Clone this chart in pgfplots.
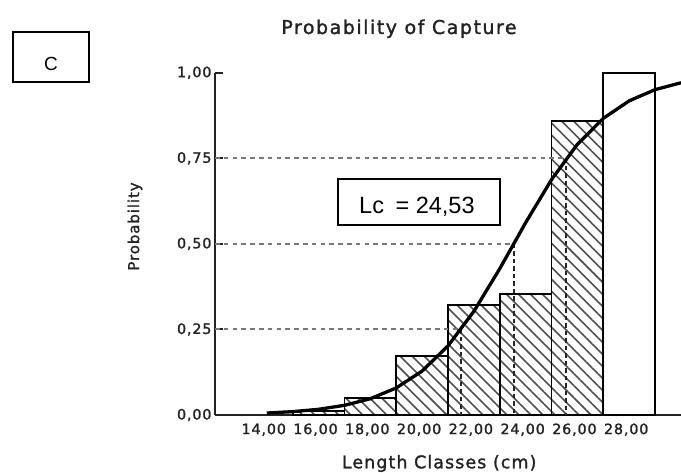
\documentclass[border=0pt]{standalone}
\usepackage{fontspec}
\setmainfont{DejaVu Sans}
\newfontfamily\dv[LetterSpace=6,FakeBold=1.4]{DejaVu Sans}
\newfontfamily\dvt[LetterSpace=8,FakeBold=1.6]{DejaVu Sans}
\newfontfamily\lib{Liberation Sans}
\usepackage{pgfplots}
\pgfplotsset{compat=1.18}
\usetikzlibrary{patterns.meta}
\definecolor{txt}{RGB}{35,35,35}
\definecolor{dashgray}{RGB}{120,120,120}
\definecolor{hatch}{RGB}{80,80,80}

\begin{document}
\begin{tikzpicture}[x=1pt,y=1pt]
\useasboundingbox (0,0) rectangle (681,473);
\begin{axis}[
  at={(215pt,58pt)}, anchor=south west,
  scale only axis, width=466pt, height=342.3pt,
  xmin=12, xmax=30, ymin=0, ymax=1,
  axis x line*=bottom, axis y line*=left,
  axis line style={-, line width=2pt, draw=txt},
  clip=false,
  xtick={14,16,18,20,22,24,26,28},
  xticklabels={{14,00},{16,00},{18,00},{20,00},{22,00},{24,00},{26,00},{28,00}},
  ytick={0,0.25,0.5,0.75,1},
  yticklabels={{0,00},{0,25},{0,50},{0,75},{1,00}},
  x tick style={draw=none},
  y tick style={line width=2pt, draw=txt},
  tick align=inside, major tick length=8pt,
  ticklabel style={font={\dv\fontsize{14.3}{16}\selectfont}, text=txt},
  xticklabel style={yshift=-5pt, xshift=-3pt},
  /pgf/number format/assume math mode=true,
]
% hatched bars (class intervals), last point closes the interval
\addplot[ybar interval, draw=black, line width=1.8pt,
  pattern={Lines[angle=-45,distance=8.5pt,line width=1.6pt]}, pattern color=hatch]
  coordinates {(15,0.012)(17,0.05)(19,0.173)(21,0.321)(23,0.353)(25,0.859)(27,0.859)};
% white bar
\addplot[ybar interval, draw=black, line width=1.8pt, fill=white]
  coordinates {(27,1.0)(29,1.0)};
% horizontal reference lines (gray dashed)
\addplot[dashgray, line width=2pt, dash pattern=on 4.5pt off 4.3pt] coordinates {(12,0.25)(21.49,0.25)};
\addplot[dashgray, line width=2pt, dash pattern=on 4.5pt off 4.3pt] coordinates {(12,0.50)(23.54,0.50)};
\addplot[dashgray, line width=2pt, dash pattern=on 4.5pt off 4.3pt] coordinates {(12,0.75)(25.56,0.75)};
% vertical reference lines
\addplot[black!85, line width=1.7pt, dash pattern=on 4.5pt off 3pt] coordinates {(21.49,0.25)(21.49,0)};
\addplot[black!85, line width=1.7pt, dash pattern=on 4.5pt off 3pt] coordinates {(23.54,0.50)(23.54,0)};
\addplot[black!85, line width=1.7pt, dash pattern=on 4.5pt off 3pt] coordinates {(25.56,0.75)(25.56,0)};
% probability of capture curve
\addplot[black, line width=3.3pt, line join=round] coordinates {
(14,0.0057)(15,0.0098)(16,0.0166)(17,0.0282)(18,0.0475)(19,0.0790)(20,0.1284)
(21,0.2020)(22,0.3030)(23,0.4275)(24,0.5619)(25,0.6878)(26,0.7910)(27,0.8667)
(28,0.9178)(29,0.9505)(30,0.9706)};
\end{axis}
\node[font={\dvt\fontsize{19}{22}\selectfont}, text=txt, anchor=base] at (399,439) {Probability of Capture};
\node[font={\dv\fontsize{15}{18}\selectfont}, text=txt, rotate=90, anchor=center] at (135,246.5) {Probability};
\node[font={\dv\fontsize{17.5}{20}\selectfont}, text=txt, anchor=base west, inner sep=0] at (341.7,4.7) {Length Classes (cm)};
\draw[line width=2pt] (12.7,391.3) rectangle (89.3,441.3);
\node[font={\lib\fontsize{19}{22}\selectfont}, anchor=base] at (51,402.3) {C};
\draw[line width=2pt, fill=white] (338.3,248) rectangle (500,293.7);
\node[font={\lib\fontsize{23.5}{26}\selectfont}, anchor=base west, inner sep=0] at (359,259.7) {Lc\hspace{5pt} = 24,53};
\end{tikzpicture}
\end{document}
